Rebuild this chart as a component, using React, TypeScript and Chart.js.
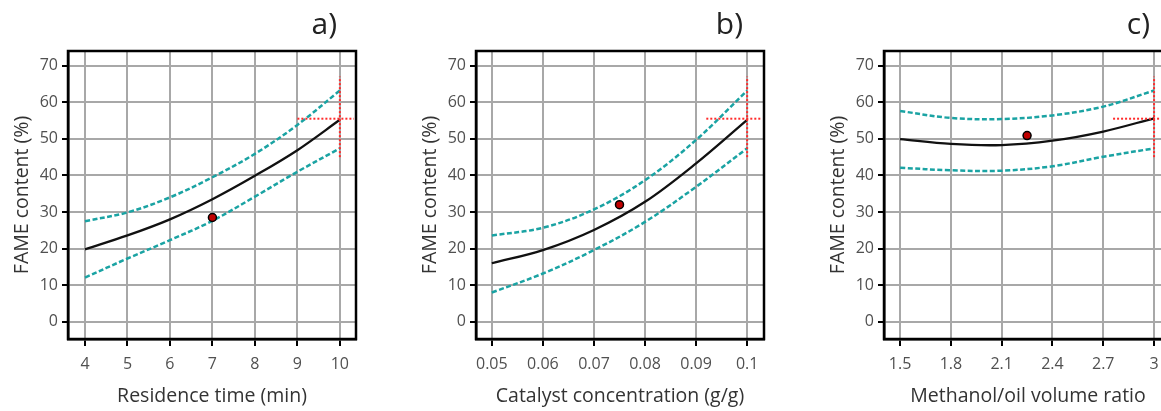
import React, { useEffect, useRef } from "react";
import { Chart, registerables } from "chart.js";
Chart.register(...registerables);

// ---------- shared y axis ----------
const yTicks = [0, 10, 20, 30, 40, 50, 60, 70];
const yTickLabels = ["0", "10", "20", "30", "40", "50", "60", "70"];
const yTitle = "FAME content (%)";

// ---------- panel a ----------
const aTitle = "a)";
const aXTitle = "Residence time (min)";
const aX = [4, 5, 6, 7, 8, 9, 10];
const aXLabels = ["4", "5", "6", "7", "8", "9", "10"];
const aFit = [19.8, 23.6, 28.0, 33.5, 39.9, 46.9, 55.2];
const aUpper = [27.5, 29.9, 34.0, 39.5, 45.9, 53.8, 63.2];
const aLower = [12.1, 17.3, 22.3, 27.6, 34.2, 41.0, 47.4];
const aObsX = [7];
const aObsY = [28.5];
const aCrossX = [9.0, 10.33];
const aCrossY = [45, 67];
const aOptX = 10;
const aOptY = 55.5;

// ---------- panel b ----------
const bTitle = "b)";
const bXTitle = "Catalyst concentration (g/g)";
const bX = [0.05, 0.06, 0.07, 0.08, 0.09, 0.1];
const bXLabels = ["0.05", "0.06", "0.07", "0.08", "0.09", "0.1"];
const bFit = [16.0, 19.6, 25.1, 32.8, 43.3, 55.2];
const bUpper = [23.6, 25.7, 30.7, 38.7, 49.7, 63.2];
const bLower = [8.0, 13.2, 19.6, 27.3, 36.9, 47.4];
const bObsX = [0.075];
const bObsY = [32.0];
const bCrossX = [0.092, 0.1027];
const bCrossY = [45, 67];
const bOptX = 0.1;
const bOptY = 55.5;

// ---------- panel c ----------
const cTitle = "c)";
const cXTitle = "Methanol/oil volume ratio";
const cX = [1.5, 1.8, 2.1, 2.4, 2.7, 3.0];
const cXLabels = ["1.5", "1.8", "2.1", "2.4", "2.7", "3"];
const cFit = [49.9, 48.6, 48.3, 49.5, 52.0, 55.6];
const cUpper = [57.6, 55.7, 55.4, 56.4, 58.8, 63.2];
const cLower = [42.1, 41.4, 41.3, 42.5, 45.1, 47.4];
const cObsX = [2.25];
const cObsY = [50.9];
const cCrossX = [2.758, 3.2];
const cCrossY = [45, 67];
const cOptX = 3.0;
const cOptY = 55.5;

const FONT = "'Open Sans', 'DejaVu Sans', sans-serif";
const TEAL = "#1aa3a3";
const RED = "#ff2b2b";

type PanelProps = {
  left: number;
  width: number;
  xMin: number;
  xMax: number;
  xs: number[];
  xLabels: string[];
  fit: number[];
  upper: number[];
  lower: number[];
  obsX: number[];
  obsY: number[];
  crossX: number[];
  crossY: number[];
  optX: number;
  optY: number;
  xTitle: string;
};

const framePlugin = {
  id: "frame",
  afterDraw(chart: any) {
    const { ctx, chartArea } = chart;
    ctx.save();
    ctx.strokeStyle = "#000";
    ctx.lineWidth = 2.5;
    ctx.strokeRect(chartArea.left, chartArea.top, chartArea.right - chartArea.left, chartArea.bottom - chartArea.top);
    ctx.restore();
  },
};

function Panel(p: PanelProps) {
  const ref = useRef<HTMLCanvasElement | null>(null);
  useEffect(() => {
    if (!ref.current) return;
    const toPts = (xs: number[], ys: number[]) => xs.map((x, i) => ({ x, y: ys[i] }));
    const chart = new Chart(ref.current, {
      type: "line",
      data: {
        datasets: [
          {
            type: "scatter",
            data: toPts(p.obsX, p.obsY),
            pointRadius: 4,
            pointBackgroundColor: "#c00000",
            pointBorderColor: "#000",
            pointBorderWidth: 1.5,
            showLine: false,
          } as any,
          {
            data: [
              { x: p.optX, y: p.crossY[0] },
              { x: p.optX, y: p.crossY[1] },
            ],
            borderColor: RED,
            borderWidth: 2,
            borderDash: [2, 2],
            pointRadius: 0,
            tension: 0,
          },
          {
            data: [
              { x: p.crossX[0], y: p.optY },
              { x: p.crossX[1], y: p.optY },
            ],
            borderColor: RED,
            borderWidth: 2,
            borderDash: [2, 2],
            pointRadius: 0,
            tension: 0,
          },
          {
            data: toPts(p.xs, p.fit),
            borderColor: "#111",
            borderWidth: 2.3,
            pointRadius: 0,
            tension: 0.35,
          },
          {
            data: toPts(p.xs, p.upper),
            borderColor: TEAL,
            borderWidth: 2.5,
            borderDash: [5, 2.5],
            pointRadius: 0,
            tension: 0.35,
          },
          {
            data: toPts(p.xs, p.lower),
            borderColor: TEAL,
            borderWidth: 2.5,
            borderDash: [5, 2.5],
            pointRadius: 0,
            tension: 0.35,
          },
        ],
      },
      options: {
        animation: false,
        responsive: false,
        devicePixelRatio: 1,
        layout: { padding: { left: 0, right: p.width - 68 - 288, top: 51, bottom: 0 } },
        plugins: { legend: { display: false }, tooltip: { enabled: false }, title: { display: false } },
        scales: {
          x: {
            type: "linear",
            position: "bottom",
            min: p.xMin,
            max: p.xMax,
            afterBuildTicks: (s: any) => {
              s.ticks = p.xs.map((v) => ({ value: v }));
            },
            afterFit: (s: any) => {
              s.height = 411 - 339;
            },
            ticks: {
              autoSkip: false,
              maxRotation: 0,
              padding: 9,
              color: "#505050",
              font: { family: FONT, size: 16 },
              callback: (v: any) => {
                const i = p.xs.findIndex((x) => Math.abs(x - Number(v)) < 1e-9);
                return i >= 0 ? p.xLabels[i] : "";
              },
            },
            grid: { color: "#a8a8a8", lineWidth: 2, tickColor: "#000", tickLength: 7, tickWidth: 2 },
            border: { display: true, color: "#000", width: 2.5 },
            title: {
              display: true,
              text: p.xTitle,
              color: "#333",
              font: { family: FONT, size: 19.5 },
              padding: { top: 0, bottom: 3 },
            },
          },
          y: {
            type: "linear",
            position: "left",
            min: -4.7,
            max: 74,
            afterBuildTicks: (s: any) => {
              s.ticks = yTicks.map((v) => ({ value: v }));
            },
            afterFit: (s: any) => {
              s.width = 68;
            },
            ticks: {
              autoSkip: false,
              padding: 4,
              color: "#505050",
              font: { family: FONT, size: 16 },
              callback: (v: any) => {
                const i = yTicks.indexOf(Number(v));
                return i >= 0 ? yTickLabels[i] : "";
              },
            },
            grid: { color: "#a8a8a8", lineWidth: 2, tickColor: "#000", tickLength: 6, tickWidth: 2 },
            border: { display: true, color: "#000", width: 2.5 },
            title: {
              display: true,
              text: yTitle,
              color: "#333",
              font: { family: FONT, size: 19.5 },
              padding: { top: 11, bottom: 0 },
            },
          },
        },
      } as any,
      plugins: [framePlugin],
    });
    return () => chart.destroy();
  }, []);
  return (
    <canvas
      ref={ref}
      width={p.width}
      height={411}
      style={{ position: "absolute", left: p.left, top: 0, width: p.width, height: 411 }}
    />
  );
}

const labelStyle = (right: number): React.CSSProperties => ({
  position: "absolute",
  left: right - 80,
  width: 80,
  top: 8,
  textAlign: "right",
  fontFamily: FONT,
  fontSize: 30,
  lineHeight: "30px",
  color: "#222",
});

export default function App() {
  return (
    <div style={{ position: "fixed", left: 0, top: 0, width: 1161, height: 411, overflow: "hidden", background: "#fff" }}>
      <Panel left={0} width={390} xMin={3.6} xMax={10.38} xs={aX} xLabels={aXLabels} fit={aFit} upper={aUpper} lower={aLower}
        obsX={aObsX} obsY={aObsY} crossX={aCrossX} crossY={aCrossY} optX={aOptX} optY={aOptY} xTitle={aXTitle} />
      <Panel left={408} width={390} xMin={0.0469} xMax={0.1033} xs={bX} xLabels={bXLabels} fit={bFit} upper={bUpper} lower={bLower}
        obsX={bObsX} obsY={bObsY} crossX={bCrossX} crossY={bCrossY} optX={bOptX} optY={bOptY} xTitle={bXTitle} />
      <Panel left={816} width={390} xMin={1.405} xMax={3.106} xs={cX} xLabels={cXLabels} fit={cFit} upper={cUpper} lower={cLower}
        obsX={cObsX} obsY={cObsY} crossX={cCrossX} crossY={cCrossY} optX={cOptX} optY={cOptY} xTitle={cXTitle} />
      <div style={labelStyle(337)}>{aTitle}</div>
      <div style={labelStyle(743)}>{bTitle}</div>
      <div style={labelStyle(1150)}>{cTitle}</div>
    </div>
  );
}
